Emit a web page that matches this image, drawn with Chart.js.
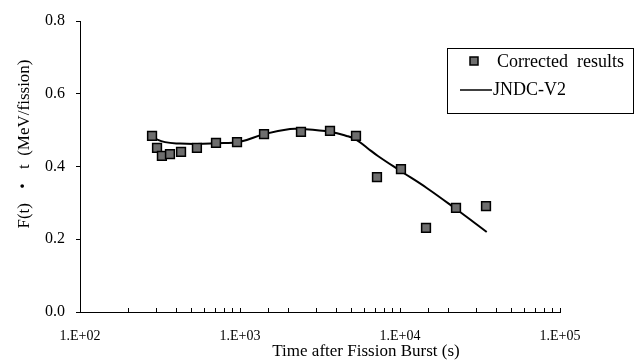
<!DOCTYPE html>
<html>
<head>
<meta charset="utf-8">
<script src="https://cdn.jsdelivr.net/npm/chart.js@4"></script>
<style>
html, body { margin: 0; padding: 0; background: #fff; }
</style>
</head>
<body>
<canvas id="chart" width="635" height="362"></canvas>
<script>
// Corrected results (time after burst in s, F(t)*t in MeV/fission)
const measTime = [282, 303, 325, 365, 428, 538, 708, 958, 1413, 2405, 3652, 5309, 7180, 10140, 14540, 22390, 34480];
const measValue = [0.484, 0.451, 0.429, 0.434, 0.440, 0.451, 0.465, 0.467, 0.489, 0.495, 0.498, 0.484, 0.371, 0.393, 0.231, 0.286, 0.291];

// JNDC-V2 curve
const calcTime = [282, 340, 422, 538, 699, 1000, 1413, 2054, 2405, 3698, 4647, 5309, 6245, 7278, 10140, 14690, 22390, 34830];
const calcValue = [0.480, 0.467, 0.463, 0.462, 0.464, 0.468, 0.489, 0.503, 0.503, 0.495, 0.484, 0.474, 0.451, 0.429, 0.387, 0.341, 0.283, 0.220];

// ejes
const xDecades = [100, 1000, 10000, 100000];
const xLabels = ['1.E+02', '1.E+03', '1.E+04', '1.E+05'];
const yTicks = [0.0, 0.2, 0.4, 0.6, 0.8];

const xTitle = 'Time after Fission Burst (s)';
const yTitle = 'F(t)  \u30fb  t  (MeV/fission)';

const serif = "'Liberation Serif', 'Times New Roman', 'Noto Sans CJK JP', serif";

// titulos y leyenda dibujados a mano
const decorations = {
    id: 'decorations',
    afterDraw(chart) {
        const ctx = chart.ctx;
        const ds = chart.data.datasets;
        ctx.save();
        ctx.fillStyle = '#000';
        ctx.textBaseline = 'middle';

        // titulo eje x
        ctx.font = '17px ' + serif;
        ctx.textAlign = 'center';
        ctx.fillText(xTitle, 366, 352);

        // titulo eje y
        ctx.save();
        ctx.translate(25, 144);
        ctx.rotate(-Math.PI / 2);
        ctx.fillText(yTitle, 0, 0);
        ctx.restore();

        // caja de leyenda
        ctx.strokeStyle = '#000';
        ctx.lineWidth = 1;
        ctx.strokeRect(447.5, 48.5, 186, 65);

        ctx.textAlign = 'left';
        ctx.font = '18px ' + serif;

        // fila 1: marcador
        ctx.fillStyle = ds[0].backgroundColor;
        ctx.strokeStyle = ds[0].borderColor;
        ctx.lineWidth = 1.5;
        ctx.fillRect(470, 57, 8, 8);
        ctx.strokeRect(470, 57, 8, 8);
        ctx.fillStyle = '#000';
        ctx.fillText(ds[0].label.replace(' ', '  '), 497, 62);

        // fila 2: linea
        ctx.beginPath();
        ctx.strokeStyle = ds[1].borderColor;
        ctx.lineWidth = 1.5;
        ctx.moveTo(460, 90);
        ctx.lineTo(492, 90);
        ctx.stroke();
        ctx.fillText(ds[1].label, 493, 90);

        ctx.restore();
    }
};

const ctx = document.getElementById('chart').getContext('2d');

new Chart(ctx, {
    type: 'scatter',
    data: {
        datasets: [
            {
                label: 'Corrected results',
                data: measTime.map((t, i) => ({ x: t, y: measValue[i] })),
                pointStyle: 'rect',
                pointRadius: 6.2,
                backgroundColor: '#6e6e6e',
                borderColor: '#000',
                borderWidth: 1.5,
                order: 1
            },
            {
                label: 'JNDC-V2',
                data: calcTime.map((t, i) => ({ x: t, y: calcValue[i] })),
                showLine: true,
                pointRadius: 0,
                borderColor: '#000',
                backgroundColor: '#000',
                borderWidth: 2,
                tension: 0.4,
                order: 2
            }
        ]
    },
    options: {
        responsive: false,
        animation: false,
        layout: {
            padding: { top: 21, right: 75, left: 0, bottom: 0 }
        },
        plugins: {
            legend: { display: false },
            tooltip: { enabled: false }
        },
        scales: {
            x: {
                type: 'logarithmic',
                min: xDecades[0],
                max: xDecades[xDecades.length - 1],
                afterFit: (scale) => { scale.height = 50; },
                grid: {
                    drawOnChartArea: false,
                    color: '#000',
                    tickLength: -4,
                    lineWidth: 1
                },
                border: { color: '#000', width: 1 },
                ticks: {
                    autoSkip: false,
                    maxRotation: 0,
                    padding: 20,
                    color: '#000',
                    font: { family: serif, size: 14 },
                    callback: (value) => {
                        const i = xDecades.indexOf(value);
                        return i >= 0 ? xLabels[i] : '';
                    }
                }
            },
            y: {
                min: yTicks[0],
                max: yTicks[yTicks.length - 1],
                afterFit: (scale) => { scale.width = 80; },
                afterBuildTicks: (scale) => {
                    scale.ticks = yTicks.map(v => ({ value: v }));
                },
                grid: {
                    drawOnChartArea: false,
                    color: '#000',
                    tickLength: 4
                },
                border: { color: '#000', width: 1 },
                ticks: {
                    padding: 11,
                    color: '#000',
                    font: { family: serif, size: 16 },
                    callback: (value) => value.toFixed(1)
                }
            }
        }
    },
    plugins: [decorations]
});
</script>
</body>
</html>
